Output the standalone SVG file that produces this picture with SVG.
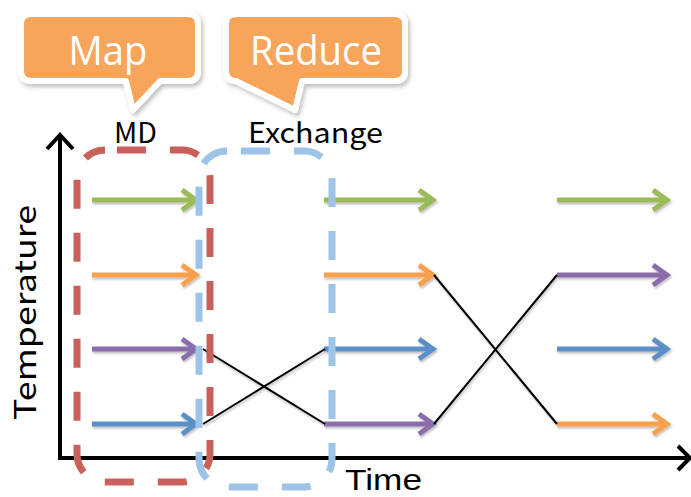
<svg xmlns="http://www.w3.org/2000/svg" width="691" height="497" viewBox="0 0 691 497">
<style>
.lbl{font-family:"Noto Sans CJK JP","Liberation Sans",sans-serif;fill:#000}
.call{font-family:"Open Sans","Liberation Sans",sans-serif;fill:#fff;font-size:40px}
.bubble{fill:#F7A55A;stroke:#fff;stroke-width:6;stroke-linejoin:round;filter:url(#sh)}
.ax{stroke:#000;stroke-width:4;fill:none}
.arr{stroke-width:5;fill:none;stroke-linecap:butt}
.g{stroke:#9BBB59}.o{stroke:#F9A04E}.p{stroke:#8B6DAB}.b{stroke:#5B8EC8}
.x{stroke:#000;stroke-width:2;fill:none}
.reg{fill:none;stroke-width:7;stroke-dasharray:29 24}
</style>
<defs>
<filter id="sh" x="-20%" y="-20%" width="140%" height="150%">
<feDropShadow dx="2" dy="3" stdDeviation="2" flood-color="#000" flood-opacity="0.25"/>
</filter>
<filter id="ash" x="-10%" y="-100%" width="120%" height="300%">
<feDropShadow dx="1" dy="2" stdDeviation="1" flood-color="#000" flood-opacity="0.25"/>
</filter>
<marker id="mg" markerUnits="userSpaceOnUse" markerWidth="20" markerHeight="26" refX="16" refY="12" orient="auto" overflow="visible"><path d="M2,2 L16,12 L2,22" fill="none" stroke="#9BBB59" stroke-width="5"/></marker>
<marker id="mo" markerUnits="userSpaceOnUse" markerWidth="20" markerHeight="26" refX="16" refY="12" orient="auto" overflow="visible"><path d="M2,2 L16,12 L2,22" fill="none" stroke="#F9A04E" stroke-width="5"/></marker>
<marker id="mp" markerUnits="userSpaceOnUse" markerWidth="20" markerHeight="26" refX="16" refY="12" orient="auto" overflow="visible"><path d="M2,2 L16,12 L2,22" fill="none" stroke="#8B6DAB" stroke-width="5"/></marker>
<marker id="mb" markerUnits="userSpaceOnUse" markerWidth="20" markerHeight="26" refX="16" refY="12" orient="auto" overflow="visible"><path d="M2,2 L16,12 L2,22" fill="none" stroke="#5B8EC8" stroke-width="5"/></marker>
</defs>
<rect width="691" height="497" fill="#fff"/>

<g id="axes">
<path class="ax" d="M60,458 V136 M47,149 L60,135 L73,149"/>
<path class="ax" d="M58,458 H688 M678,446 L690,458 L678,470"/>
</g>

<g id="connectors" filter="url(#ash)">
<path class="arr g" d="M92,200 H196" marker-end="url(#mg)"/>
<path class="arr o" d="M92,275 H196" marker-end="url(#mo)"/>
<path class="arr p" d="M92,349 H196" marker-end="url(#mp)"/>
<path class="arr b" d="M92,424 H196" marker-end="url(#mb)"/>
<path class="arr g" d="M324,200 H433" marker-end="url(#mg)"/>
<path class="arr o" d="M324,275 H433" marker-end="url(#mo)"/>
<path class="arr b" d="M324,349 H433" marker-end="url(#mb)"/>
<path class="arr p" d="M324,424 H433" marker-end="url(#mp)"/>
<path class="arr g" d="M557,200 H667" marker-end="url(#mg)"/>
<path class="arr p" d="M557,275 H667" marker-end="url(#mp)"/>
<path class="arr b" d="M557,349 H667" marker-end="url(#mb)"/>
<path class="arr o" d="M557,424 H667" marker-end="url(#mo)"/>
<path class="x" d="M203,349 L325,424 M203,424 L325,349"/>
<path class="x" d="M434,275 L557,424 M434,424 L557,275"/>
</g>

<g id="md-region">
<rect class="reg" x="77" y="150" width="133" height="332" rx="28" stroke="#C9615A" stroke-dashoffset="-12"/>
</g>
<g id="exchange-region">
<rect class="reg" x="199" y="151" width="133" height="336" rx="28" stroke="#9DC3E6" stroke-dashoffset="-14"/>
</g>

<g id="map-callout">
<path class="bubble" d="M31,14 H188 Q198,14 198,24 V71 Q198,81 188,81 H160 L133,110 L126,81 H31 Q21,81 21,71 V24 Q21,14 31,14 Z"/>
<text class="call" x="108" y="65" text-anchor="middle" textLength="79" lengthAdjust="spacingAndGlyphs">Map</text>
</g>
<g id="reduce-callout">
<path class="bubble" d="M236,14 H395 Q405,14 405,24 V71 Q405,81 395,81 H302 L295,110 L236,81 Q226,81 226,71 V24 Q226,14 236,14 Z"/>
<text class="call" x="316" y="65" text-anchor="middle" textLength="132" lengthAdjust="spacingAndGlyphs">Reduce</text>
</g>

<g id="labels">
<text class="lbl" x="114" y="143" font-size="28" textLength="43" lengthAdjust="spacingAndGlyphs">MD</text>
<text class="lbl" x="248" y="143" font-size="28" textLength="135" lengthAdjust="spacingAndGlyphs">Exchange</text>
<text class="lbl" transform="translate(36,420) rotate(-90)" font-size="30" textLength="215" lengthAdjust="spacingAndGlyphs">Temperature</text>
<text x="345" y="490" font-size="30" font-family="Liberation Sans, sans-serif" textLength="77" lengthAdjust="spacingAndGlyphs">Time</text>
</g>
</svg>
